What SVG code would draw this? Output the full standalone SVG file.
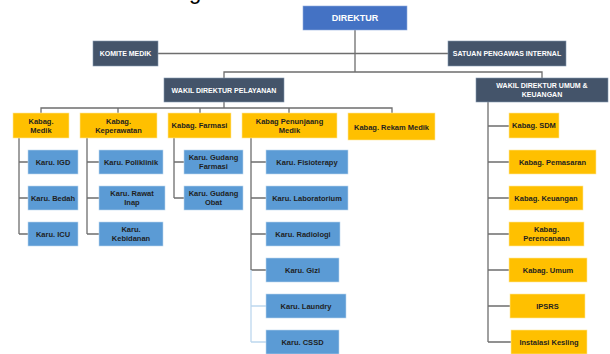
<svg xmlns="http://www.w3.org/2000/svg" width="610" height="354" viewBox="0 0 610 354">
<style>
.nv{fill:#44546A;stroke:#8497B0;stroke-width:0.6}
.bl{fill:#4472C4;stroke:#8FAADC;stroke-width:0.6}
.yl{fill:#FFC000;stroke:#FFE699;stroke-width:0.6}
.lb{fill:#5B9BD5;stroke:#BDD7EE;stroke-width:0.6}
.tw{fill:#FFFFFF;font-family:"Liberation Sans",Arial,sans-serif;font-weight:bold;font-size:7px;text-anchor:middle;dominant-baseline:central}
.td{fill:#1F1F1F;font-family:"Liberation Sans",Arial,sans-serif;font-weight:bold;font-size:7.5px;text-anchor:middle;dominant-baseline:central}
.cn{fill:none;stroke:#6E6E6E;stroke-width:1.3}
.cl{fill:none;stroke:#BDD7EE;stroke-width:1.3}
</style>
<rect width="610" height="354" fill="#FFFFFF"/>
<text x="195" y="-1.5" font-family="Liberation Sans, Arial, sans-serif" font-size="22" text-anchor="middle" fill="#000">g</text>
<g id="connectors">
<path class="cn" d="M355 30V72M158 53.5H448M224 78V72H542V78M224 102V108M41 113V108H392V113M118 108V113M200 108V113M289 108V113"/>
<path class="cn" d="M19 138V234M19 162H28M19 198H28M19 234H28"/>
<path class="cn" d="M87 138V234M87 162H99M87 198H99M87 234H99"/>
<path class="cn" d="M174 138V198M174 162H184M174 198H184"/>
<path class="cn" d="M251 138V270M251 162H266M251 198H266M251 234H266M251 270H266"/>
<path class="cl" d="M251 270V342M251 306H266M251 342H266"/>
<path class="cn" d="M488 102V342M488 126H509M488 162H509M488 198H509M488 234H509M488 270H509M488 306H510M488 342H511"/>
</g>
<g id="direktur"><rect class="bl" x="303" y="6" width="104" height="24"/><text class="tw" x="355" y="18" style="font-size:9px">DIREKTUR</text></g>
<g id="komite-medik"><rect class="nv" x="93" y="41" width="65" height="25"/><text class="tw" x="125.5" y="53.5">KOMITE MEDIK</text></g>
<g id="spi"><rect class="nv" x="448" y="41" width="118" height="25"/><text class="tw" x="507" y="53.5">SATUAN PENGAWAS INTERNAL</text></g>
<g id="wakil-pelayanan"><rect class="nv" x="164" y="78" width="120" height="24"/><text class="tw" x="224" y="90">WAKIL DIREKTUR PELAYANAN</text></g>
<g id="wakil-umum"><rect class="nv" x="476" y="78" width="132" height="24"/><text class="tw" x="542" y="85.5">WAKIL DIREKTUR UMUM &amp;</text><text class="tw" x="542" y="94">KEUANGAN</text></g>

<g id="kabag-medik"><rect class="yl" x="13" y="113" width="56" height="25"/><text class="td" x="41" y="121.5">Kabag.</text><text class="td" x="41" y="130">Medik</text></g>
<g id="kabag-keperawatan"><rect class="yl" x="80" y="113" width="77" height="25"/><text class="td" x="118.5" y="121.5">Kabag.</text><text class="td" x="118.5" y="130">Keperawatan</text></g>
<g id="kabag-farmasi"><rect class="yl" x="168" y="113" width="63" height="25"/><text class="td" x="199.5" y="125.5">Kabag. Farmasi</text></g>
<g id="kabag-penunjang"><rect class="yl" x="242" y="113" width="95" height="25"/><text class="td" x="289.5" y="121.5">Kabag Penunjaang</text><text class="td" x="289.5" y="130">Medik</text></g>
<g id="kabag-rekam-medik"><rect class="yl" x="348" y="113" width="87" height="27"/><text class="td" x="391.5" y="127">Kabag. Rekam Medik</text></g>

<g id="karu-igd"><rect class="lb" x="28" y="150" width="50" height="24"/><text class="td" x="53" y="162">Karu. IGD</text></g>
<g id="karu-bedah"><rect class="lb" x="28" y="186" width="50" height="24"/><text class="td" x="53" y="198">Karu. Bedah</text></g>
<g id="karu-icu"><rect class="lb" x="28" y="222" width="50" height="24"/><text class="td" x="53" y="234">Karu. ICU</text></g>

<g id="karu-poliklinik"><rect class="lb" x="99" y="150" width="64" height="24"/><text class="td" x="131" y="162">Karu. Poliklinik</text></g>
<g id="karu-rawat-inap"><rect class="lb" x="99" y="186" width="66" height="24"/><text class="td" x="132" y="193.5">Karu. Rawat</text><text class="td" x="132" y="202">Inap</text></g>
<g id="karu-kebidanan"><rect class="lb" x="99" y="222" width="64" height="24"/><text class="td" x="131" y="229.5">Karu.</text><text class="td" x="131" y="238">Kebidanan</text></g>

<g id="karu-gudang-farmasi"><rect class="lb" x="184" y="150" width="59" height="24"/><text class="td" x="213.5" y="157.5">Karu. Gudang</text><text class="td" x="213.5" y="166">Farmasi</text></g>
<g id="karu-gudang-obat"><rect class="lb" x="184" y="186" width="59" height="24"/><text class="td" x="213.5" y="193.5">Karu. Gudang</text><text class="td" x="213.5" y="202">Obat</text></g>

<g id="karu-fisioterapy"><rect class="lb" x="266" y="150" width="82" height="24"/><text class="td" x="307" y="162">Karu. Fisioterapy</text></g>
<g id="karu-laboratorium"><rect class="lb" x="266" y="186" width="82" height="24"/><text class="td" x="307" y="198">Karu. Laboratorium</text></g>
<g id="karu-radiologi"><rect class="lb" x="266" y="222" width="74" height="24"/><text class="td" x="303" y="234">Karu. Radiologi</text></g>
<g id="karu-gizi"><rect class="lb" x="266" y="258" width="73" height="24"/><text class="td" x="302.5" y="270">Karu. Gizi</text></g>
<g id="karu-laundry"><rect class="lb" x="266" y="294" width="80" height="24"/><text class="td" x="306" y="306">Karu. Laundry</text></g>
<g id="karu-cssd"><rect class="lb" x="266" y="330" width="73" height="24"/><text class="td" x="302.5" y="342">Karu. CSSD</text></g>

<g id="kabag-sdm"><rect class="yl" x="509" y="113" width="50" height="25"/><text class="td" x="534" y="125.5">Kabag. SDM</text></g>
<g id="kabag-pemasaran"><rect class="yl" x="509" y="150" width="87" height="24"/><text class="td" x="552.5" y="162">Kabag. Pemasaran</text></g>
<g id="kabag-keuangan"><rect class="yl" x="509" y="186" width="74" height="24"/><text class="td" x="546" y="198">Kabag. Keuangan</text></g>
<g id="kabag-perencanaan"><rect class="yl" x="509" y="222" width="75" height="24"/><text class="td" x="546.5" y="229.5">Kabag.</text><text class="td" x="546.5" y="238">Perencanaan</text></g>
<g id="kabag-umum"><rect class="yl" x="509" y="258" width="78" height="24"/><text class="td" x="548" y="270">Kabag. Umum</text></g>
<g id="ipsrs"><rect class="yl" x="510" y="294" width="75" height="24"/><text class="td" x="547.5" y="306">IPSRS</text></g>
<g id="instalasi-kesling"><rect class="yl" x="511" y="330" width="76" height="24"/><text class="td" x="549" y="342">Instalasi Kesling</text></g>
</svg>
